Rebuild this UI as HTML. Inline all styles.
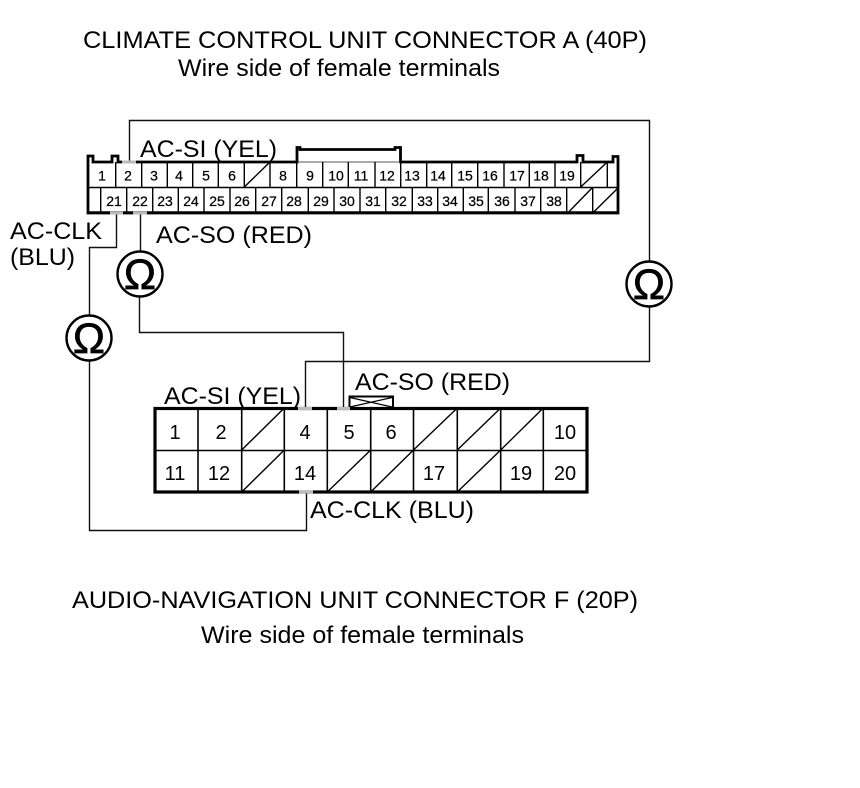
<!DOCTYPE html>
<html><head><meta charset="utf-8"><style>
html,body{margin:0;padding:0;background:#fff;width:860px;height:788px;overflow:hidden}
svg{display:block}
text{font-family:"Liberation Sans",sans-serif;fill:#000}
.l{font-size:24px}
.n{font-size:14px;text-anchor:middle;stroke:#000;stroke-width:.25}
.m{font-size:20px;text-anchor:middle}
.o{font-size:43px;text-anchor:middle;stroke:#000;stroke-width:.7}
</style></head><body>
<svg width="860" height="788" viewBox="0 0 860 788" xmlns="http://www.w3.org/2000/svg">
<g class="l">
<text class="l" x="83" y="48" textLength="564" lengthAdjust="spacingAndGlyphs">CLIMATE CONTROL UNIT CONNECTOR A (40P)</text>
<text class="l" x="178" y="76" textLength="322" lengthAdjust="spacingAndGlyphs">Wire side of female terminals</text>
<text class="l" x="140" y="157" textLength="137" lengthAdjust="spacingAndGlyphs">AC-SI (YEL)</text>
<text class="l" x="10" y="239" textLength="92" lengthAdjust="spacingAndGlyphs">AC-CLK</text>
<text class="l" x="10" y="265" textLength="65" lengthAdjust="spacingAndGlyphs">(BLU)</text>
<text class="l" x="156" y="243" textLength="156" lengthAdjust="spacingAndGlyphs">AC-SO (RED)</text>
<text class="l" x="164" y="404" textLength="137" lengthAdjust="spacingAndGlyphs">AC-SI (YEL)</text>
<text class="l" x="355" y="390" textLength="155" lengthAdjust="spacingAndGlyphs">AC-SO (RED)</text>
<text class="l" x="310" y="518" textLength="164" lengthAdjust="spacingAndGlyphs">AC-CLK (BLU)</text>
<text class="l" x="72" y="608" textLength="566" lengthAdjust="spacingAndGlyphs">AUDIO-NAVIGATION UNIT CONNECTOR F (20P)</text>
<text class="l" x="201" y="643" textLength="323" lengthAdjust="spacingAndGlyphs">Wire side of female terminals</text>
</g>

<!-- wires -->
<g fill="none" stroke="#111" stroke-width="1.4">
<path d="M129.5 162V120.5H649.5V262M649.5 306V361.5H305.5V408"/>
<path d="M140.5 213V252M139.5 296V332.5H343.5V408"/>
<path d="M116.5 213V247.5H89.5V316M89.5 360V530.5H306.5V492"/>
</g>

<!-- top connector -->
<g fill="none" stroke="#000">
<path d="M88 213V156H93V162H112V156H118V162H297V147.5H300V149.5H395V147.5H400.5V162H577V155.5H583V162H613V156.5H618V213Z" stroke-width="2.8" fill="#fff"/>
<path d="M298 162H400" stroke-width="1.1" stroke="#555"/>
<path d="M89 187.5H618" stroke-width="1.6"/>
<path d="M89 212.5H618" stroke-width="2.6"/>
<path d="M115.7 162V187M141.7 162V187M167.3 162V187M192.7 162V187M218.3 162V187M244.3 162V187M270 162V187M296.7 162V187M322.7 162V187M348.3 162V187M375 162V187M400.7 162V187M426.7 162V187M451.7 162V187M477.7 162V187M504 162V187M529.3 162V187M555 162V187M580.7 162V187M607.3 162V187" stroke-width="1.4"/>
<path d="M100.7 187V213M126.7 187V213M152.7 187V213M178.3 187V213M204 187V213M230 187V213M255.7 187V213M281.7 187V213M308.3 187V213M334 187V213M360 187V213M385.7 187V213M412.3 187V213M437.7 187V213M463.3 187V213M488.3 187V213M515 187V213M540.7 187V213M566.7 187V213M592.7 187V213" stroke-width="1.4"/>
<path d="M244.3 187L270 162M580.7 187L607.3 162M566.7 214L592 188M592.7 213L618 188" stroke-width="1.4"/>
</g>
<g fill="#bbb">
<rect x="122" y="160.5" width="14" height="3"/>
<rect x="110" y="211.5" width="13" height="3"/>
<rect x="133" y="211.5" width="14" height="3"/>
</g>
<g class="n">
<text class="n" x="102" y="180.5">1</text>
<text class="n" x="128" y="180.5">2</text><text class="n" x="154" y="180.5">3</text><text class="n" x="179" y="180.5">4</text><text class="n" x="206" y="180.5">5</text><text class="n" x="232" y="180.5">6</text><text class="n" x="283" y="180.5">8</text><text class="n" x="310" y="180.5">9</text><text class="n" x="336" y="180.5">10</text><text class="n" x="361" y="180.5">11</text><text class="n" x="387" y="180.5">12</text><text class="n" x="412" y="180.5">13</text><text class="n" x="438" y="180.5">14</text><text class="n" x="465" y="180.5">15</text><text class="n" x="490" y="180.5">16</text><text class="n" x="517" y="180.5">17</text><text class="n" x="541" y="180.5">18</text><text class="n" x="567" y="180.5">19</text>
<text class="n" x="114" y="206">21</text><text class="n" x="140" y="206">22</text><text class="n" x="165" y="206">23</text><text class="n" x="191" y="206">24</text><text class="n" x="217" y="206">25</text><text class="n" x="242" y="206">26</text><text class="n" x="269" y="206">27</text><text class="n" x="294" y="206">28</text><text class="n" x="321" y="206">29</text><text class="n" x="347" y="206">30</text><text class="n" x="373" y="206">31</text><text class="n" x="399" y="206">32</text><text class="n" x="425" y="206">33</text><text class="n" x="450" y="206">34</text><text class="n" x="476" y="206">35</text><text class="n" x="502" y="206">36</text><text class="n" x="528" y="206">37</text><text class="n" x="554" y="206">38</text>
</g>

<!-- bottom connector -->
<g fill="none" stroke="#000">
<path d="M349.5 408V396.5H393V408" stroke-width="2"/>
<path d="M350 397.5L392 407M350 407L392 397.5" stroke-width="1.2"/>
<rect x="155" y="408.5" width="432" height="83.5" stroke-width="3.2" fill="#fff"/>
<path d="M155 450.5H587" stroke-width="1.6"/>
<path d="M198 408V492M241.7 408V492M284.3 408V492M327.3 408V492M370.7 408V492M413.5 408V492M457.3 408V492M500.7 408V492M543.3 408V492" stroke-width="1.6"/>
<path d="M241.7 450L284.3 408M413.5 450L457.3 408M457.3 450L500.7 408M500.7 450L543.3 408M241.7 492L284.3 450M327.3 492L370.7 450M370.7 492L413.5 450M457.3 492L500.7 450" stroke-width="1.4"/>
</g>
<g fill="#bbb">
<rect x="298" y="407" width="14" height="3"/>
<rect x="337" y="407" width="13" height="3"/>
<rect x="299" y="490.5" width="14" height="3"/>
</g>
<g class="m">
<text class="m" x="175" y="439">1</text><text class="m" x="221" y="439">2</text><text class="m" x="305" y="439">4</text><text class="m" x="349" y="439">5</text><text class="m" x="391" y="439">6</text><text class="m" x="565" y="439">10</text>
<text class="m" x="175" y="480">11</text><text class="m" x="219" y="480">12</text><text class="m" x="305" y="480">14</text><text class="m" x="434" y="480">17</text><text class="m" x="521" y="480">19</text><text class="m" x="565" y="480">20</text>
</g>

<!-- meters -->
<g fill="#fff" stroke="#000" stroke-width="2.4">
<circle cx="140" cy="274" r="22.5"/>
<circle cx="89" cy="338" r="22.5"/>
<circle cx="649" cy="284" r="22.5"/>
</g>
<text class="o" x="140" y="289">Ω</text>
<text class="o" x="89" y="353">Ω</text>
<text class="o" x="649" y="299">Ω</text>
</svg>
</body></html>
